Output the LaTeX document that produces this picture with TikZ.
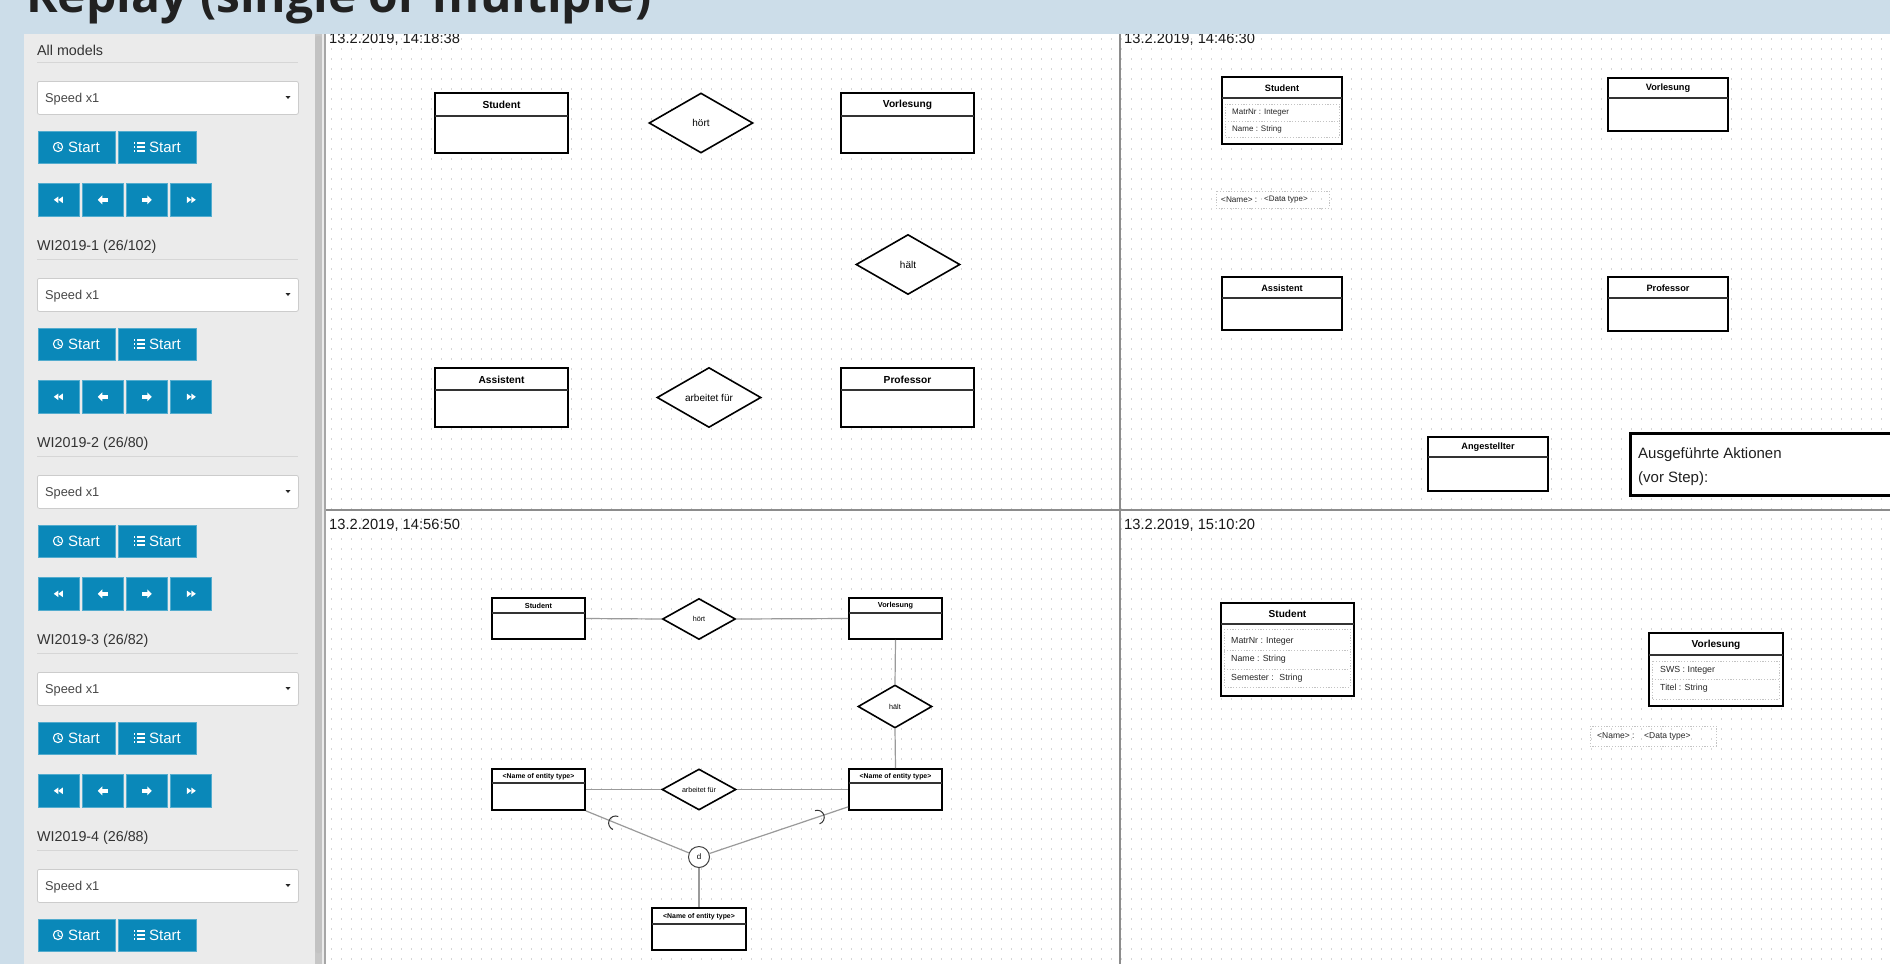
\documentclass[tikz,border=0pt]{standalone}
\usepackage{fontspec}
\setmainfont{Liberation Sans}
\newfontfamily\titlefont{Open Sans}
\usetikzlibrary{shapes.geometric,calc}
\definecolor{hdrblue}{HTML}{CCDDE9}
\definecolor{panelgray}{HTML}{EBEBEB}
\definecolor{btnblue}{HTML}{0A88B9}
\definecolor{dotgray}{HTML}{D6D6D6}
\definecolor{divgray}{HTML}{8C8C8C}
\definecolor{conngray}{HTML}{9A9A9A}
\definecolor{attrgray}{HTML}{C4C4C4}
\definecolor{sepgray}{HTML}{D6D6D6}
\newcommand{\fsz}[1]{\fontsize{#1}{#1}\selectfont}
\tikzset{
  entity/.style={draw=black, line width=1.7pt, fill=white, inner sep=0pt},
  hdrline/.style={draw=black!80, line width=1.2pt},
  reln/.style={diamond, draw=black, line width=1.6pt, fill=white, inner sep=0pt},
  conn/.style={draw=conngray, line width=1.2pt},
  attrbox/.style={draw=attrgray, line width=0.7pt, dash pattern=on 1.2pt off 1.6pt},
  stamp/.style={anchor=west, inner sep=0pt, font=\fsz{14.7}, text=black!90},
  btn/.style={fill=btnblue, draw=btnblue!70!white, line width=0.6pt, inner sep=0pt},
  selbox/.style={fill=white, draw=black!20, line width=0.8pt, rounded corners=2pt, inner sep=0pt},
  sidehead/.style={anchor=west, inner sep=0pt, font=\fsz{14.3}, text=black!80},
  btntext/.style={anchor=west, inner sep=0pt, font=\fsz{15}, text=white},
}
% entity box: name, x1, y1, x2, y2, header y, title, font size
\newcommand{\entbox}[8]{%
  \node[entity, minimum width={#4-#2}, minimum height={#5-#3}] (#1) at ({(#2+#4)/2},{(#3+#5)/2}) {};
  \draw[hdrline] (#2,#6) -- (#4,#6);
  \node[inner sep=0pt, font=\bfseries\fsz{#8}] (#1-t) at ({(#2+#4)/2},{(#3+#6)/2+0.5}) {#7};
}
\newcommand{\attr}[5]{%
  \node[anchor=west, inner sep=0pt, font=\fsz{#4}, text=black!85] (#1) at (#2,#3) {#5};
}
% sidebar section: name, heading y, heading text
\newcommand{\sidesec}[3]{%
  \node[sidehead] (#1-h) at (37,#2) {#3};
  \draw[sepgray, line width=1pt] (37,#2+12) -- (298,#2+12);
  \node[selbox, minimum width=261, minimum height=33, anchor=north west] (#1-sel) at (37,#2+31) {};
  \node[anchor=base west, inner sep=0pt, font=\fsz{12.8}, text=black!72] (#1-spd) at (45,#2+52) {Speed x1};
  \fill[black!85] (285.5,#2+46) -- (290.5,#2+46) -- (288,#2+49) -- cycle;
  \node[btn, minimum width=77, minimum height=32, anchor=north west] (#1-b1) at (38,#2+81) {};
  \node[btntext] (#1-b1t) at (68,#2+97.5) {Start};
  \draw[white, line width=1.1pt] (58,#2+97) circle[radius=4.6];
  \draw[white, line width=1pt] (58,#2+94) -- (58,#2+97.3) -- (60.6,#2+98.8);
  \node[btn, minimum width=78, minimum height=32, anchor=north west] (#1-b2) at (118,#2+81) {};
  \node[btntext] (#1-b2t) at (149,#2+97.5) {Start};
  \foreach \dy in {-4,0,4} {
    \fill[white] (133.5,#2+97+\dy-0.7) rectangle (135,#2+97+\dy+0.7);
    \fill[white] (136.5,#2+97+\dy-0.7) rectangle (145,#2+97+\dy+0.7);
  }
}
\newcommand{\sidearrows}[2]{%
  \foreach \i/\xa in {1/38,2/82,3/126,4/170} {
    \node[btn, minimum width=41, minimum height=33, anchor=north west] (#1-a\i) at (\xa,#2+133) {};
  }
  \fill[white] ($(#1-a1.center)+(-5,0)$) -- ++(4.5,-3.3) -- ++(0,6.6) -- cycle;
  \fill[white] ($(#1-a1.center)+(-0.5,0)$) -- ++(4.5,-3.3) -- ++(0,6.6) -- cycle;
  \fill[white] ($(#1-a2.center)+(-5,0)$) -- ++(4.5,-4.5) -- ++(0,9) -- cycle;
  \fill[white] ($(#1-a2.center)+(-1,-2)$) rectangle ($(#1-a2.center)+(5,2)$);
  \fill[white] ($(#1-a3.center)+(5,0)$) -- ++(-4.5,-4.5) -- ++(0,9) -- cycle;
  \fill[white] ($(#1-a3.center)+(1,-2)$) rectangle ($(#1-a3.center)+(-5,2)$);
  \fill[white] ($(#1-a4.center)+(5,0)$) -- ++(-4.5,-3.3) -- ++(0,6.6) -- cycle;
  \fill[white] ($(#1-a4.center)+(0.5,0)$) -- ++(-4.5,-3.3) -- ++(0,6.6) -- cycle;
}
\begin{document}
\begin{tikzpicture}[x=1pt,y=-1pt]
\useasboundingbox (0,0) rectangle (1890,964);
\clip (0,0) rectangle (1890,964);
% background
\fill[hdrblue] (0,0) rectangle (1890,964);
\fill[panelgray] (24,33.5) rectangle (315,964);
\fill[black!22] (315,33.5) rectangle (322,964);
\fill[black!24,rounded corners=3pt] (315,36) rectangle (322,953);
\fill[black!8] (322,33.5) rectangle (324,964);
\fill[black!35] (324,33.5) rectangle (326,964);
\fill[white] (326,33.5) rectangle (1890,964);
% dot grid
\foreach \yy in {39,49,...,959} {
  \draw[dotgray, line width=1.2pt, dash pattern=on 1.2pt off 8.8pt] (331,\yy) -- (1890,\yy);
}
% quadrant dividers
\draw[divgray, line width=2pt] (1120,33.5) -- (1120,964);
\draw[divgray, line width=2pt] (326,510) -- (1890,510);
% timestamps
\node[stamp] (ts1) at (329,39.5) {13.2.2019, 14:18:38};
\node[stamp] (ts2) at (1124,39.5) {13.2.2019, 14:46:30};
\node[stamp] (ts3) at (329,525) {13.2.2019, 14:56:50};
\node[stamp] (ts4) at (1124,525) {13.2.2019, 15:10:20};

% ---------- Quadrant 1 ----------
\entbox{qa-stu}{435}{93}{568}{153}{116}{Student}{10.2}
\node[reln, minimum width=104, minimum height=60, font=\fsz{10}] (qa-hoert) at (701,123) {hört};
\entbox{qa-vor}{841}{93}{974}{153}{116}{Vorlesung}{10.2}
\node[reln, minimum width=104, minimum height=60, font=\fsz{10}] (qa-haelt) at (908,264.5) {hält};
\entbox{qa-ass}{435}{368}{568}{427}{390}{Assistent}{10.2}
\node[reln, minimum width=104, minimum height=60, font=\fsz{10}] (qa-arb) at (709,397.5) {arbeitet für};
\entbox{qa-prof}{841}{368}{974}{427}{390}{Professor}{10.2}

% ---------- Quadrant 2 ----------
\entbox{qb-stu}{1222}{77}{1342}{144}{98}{Student}{9.2}
\draw[attrbox] (1225,104) rectangle (1339,137);
\draw[attrbox] (1225,121) -- (1339,121);
\attr{qb-a1}{1232}{112.5}{8}{MatrNr : Integer}
\attr{qb-a2}{1232}{129}{8}{Name : String}
\draw[attrbox] (1216,191) rectangle (1329,208);
\attr{qb-n}{1221}{199.5}{8.2}{<Name> :}
\attr{qb-d}{1264}{199.5}{8}{<Data type>}
\entbox{qb-vor}{1608}{78}{1728}{131}{98}{Vorlesung}{9.2}
\entbox{qb-ass}{1222}{277}{1342}{330}{298}{Assistent}{9.2}
\entbox{qb-prof}{1608}{277}{1728}{331}{298}{Professor}{9.2}
\entbox{qb-ang}{1428}{437}{1548}{491}{457}{Angestellter}{9.2}
\node[draw=black, line width=3pt, fill=white, minimum width=280, minimum height=62, anchor=north west, inner sep=0pt] (qb-act) at (1629,432) {};
\node[anchor=north west, align=left, inner sep=0pt, font=\fontsize{15}{24}\selectfont, text=black!88] (qb-act-t) at (1638,447.5) {Ausgeführte Aktionen\\(vor Step):};

% ---------- Quadrant 3 ----------
\entbox{qc-stu}{492}{598}{585}{639}{613}{Student}{7.3}
\node[reln, minimum width=73, minimum height=41, font=\fsz{7.2}] (qc-hoert) at (699,619) {hört};
\entbox{qc-vor}{849}{598}{942}{639}{613}{Vorlesung}{7.3}
\node[reln, minimum width=74, minimum height=43, font=\fsz{7.2}] (qc-haelt) at (895,706.5) {hält};
\entbox{qc-e1}{492}{769}{585}{810}{783}{<Name of entity type>}{6.9}
\node[reln, minimum width=74, minimum height=41, font=\fsz{7.1}] (qc-arb) at (699,789.5) {arbeitet für};
\entbox{qc-e2}{849}{769}{942}{810}{783}{<Name of entity type>}{6.9}
\node[circle, draw=black!75, line width=1pt, fill=white, minimum size=21, inner sep=0pt, font=\fsz{8}] (qc-d) at (699,857) {d};
\entbox{qc-e3}{652}{908}{746}{950}{924}{<Name of entity type>}{6.9}
\draw[conn] (qc-stu.east) -- (qc-hoert.west);
\draw[conn] (qc-hoert.east) -- (qc-vor.west);
\draw[conn] (qc-vor.south) -- (qc-haelt.north);
\draw[conn] (qc-haelt.south) -- (qc-e2.north);
\draw[conn] (qc-e1.east) -- (qc-arb.west);
\draw[conn] (qc-arb.east) -- (qc-e2.west);
\draw[conn] (qc-e1.south east) -- (qc-d);
\draw[conn] (qc-d) -- ($(qc-e2.south west)+(0,-4)$);
\draw[conn] (qc-d) -- (qc-e3.north);
\draw[black!80, line width=1pt] ($(qc-e1.south east)!0.263!(qc-d.center)$) ++(112.4:7) arc[start angle=112.4, end angle=292.4, radius=7];
\draw[black!80, line width=1pt] ($(qc-d.center)!0.793!($(qc-e2.south west)+(0,-4)$)$) ++(-108.8:7) arc[start angle=-108.8, end angle=71.2, radius=7];

% ---------- Quadrant 4 ----------
\entbox{qd-stu}{1221}{603}{1354}{696}{624}{Student}{10.1}
\draw[attrbox] (1224,629) rectangle (1350,687);
\draw[attrbox] (1224,650) -- (1350,650);
\draw[attrbox] (1224,669) -- (1350,669);
\attr{qd-a1}{1231}{641}{8.8}{MatrNr : Integer}
\attr{qd-a2}{1231}{659.5}{8.8}{Name : String}
\attr{qd-a3}{1231}{678}{8.8}{Semester : \ String}
\entbox{qd-vor}{1649}{633}{1783}{706}{655}{Vorlesung}{10.1}
\draw[attrbox] (1652,661) rectangle (1779,699);
\draw[attrbox] (1652,679) -- (1779,679);
\attr{qd-b1}{1660}{670}{8.8}{SWS : Integer}
\attr{qd-b2}{1660}{688.5}{8.8}{Titel : String}
\draw[attrbox] (1590,726) rectangle (1716,746);
\attr{qd-n}{1597}{736}{8.5}{<Name> :}
\attr{qd-d}{1644}{736}{8.5}{<Data type>}

% ---------- Sidebar ----------
\sidesec{s0}{50}{All models}
\sidearrows{s0}{50}
\sidesec{s1}{247}{WI2019-1 (26/102)}
\sidearrows{s1}{247}
\sidesec{s2}{444}{WI2019-2 (26/80)}
\sidearrows{s2}{444}
\sidesec{s3}{641}{WI2019-3 (26/82)}
\sidearrows{s3}{641}
\sidesec{s4}{838}{WI2019-4 (26/88)}

% ---------- Header ----------
\fill[hdrblue] (0,0) rectangle (1890,33.5);
\node[anchor=base west, inner sep=0pt, font=\titlefont\bfseries\fsz{48}, text=black!87] (title) at (26,12) {Replay (single or multiple)};
\end{tikzpicture}
\end{document}
